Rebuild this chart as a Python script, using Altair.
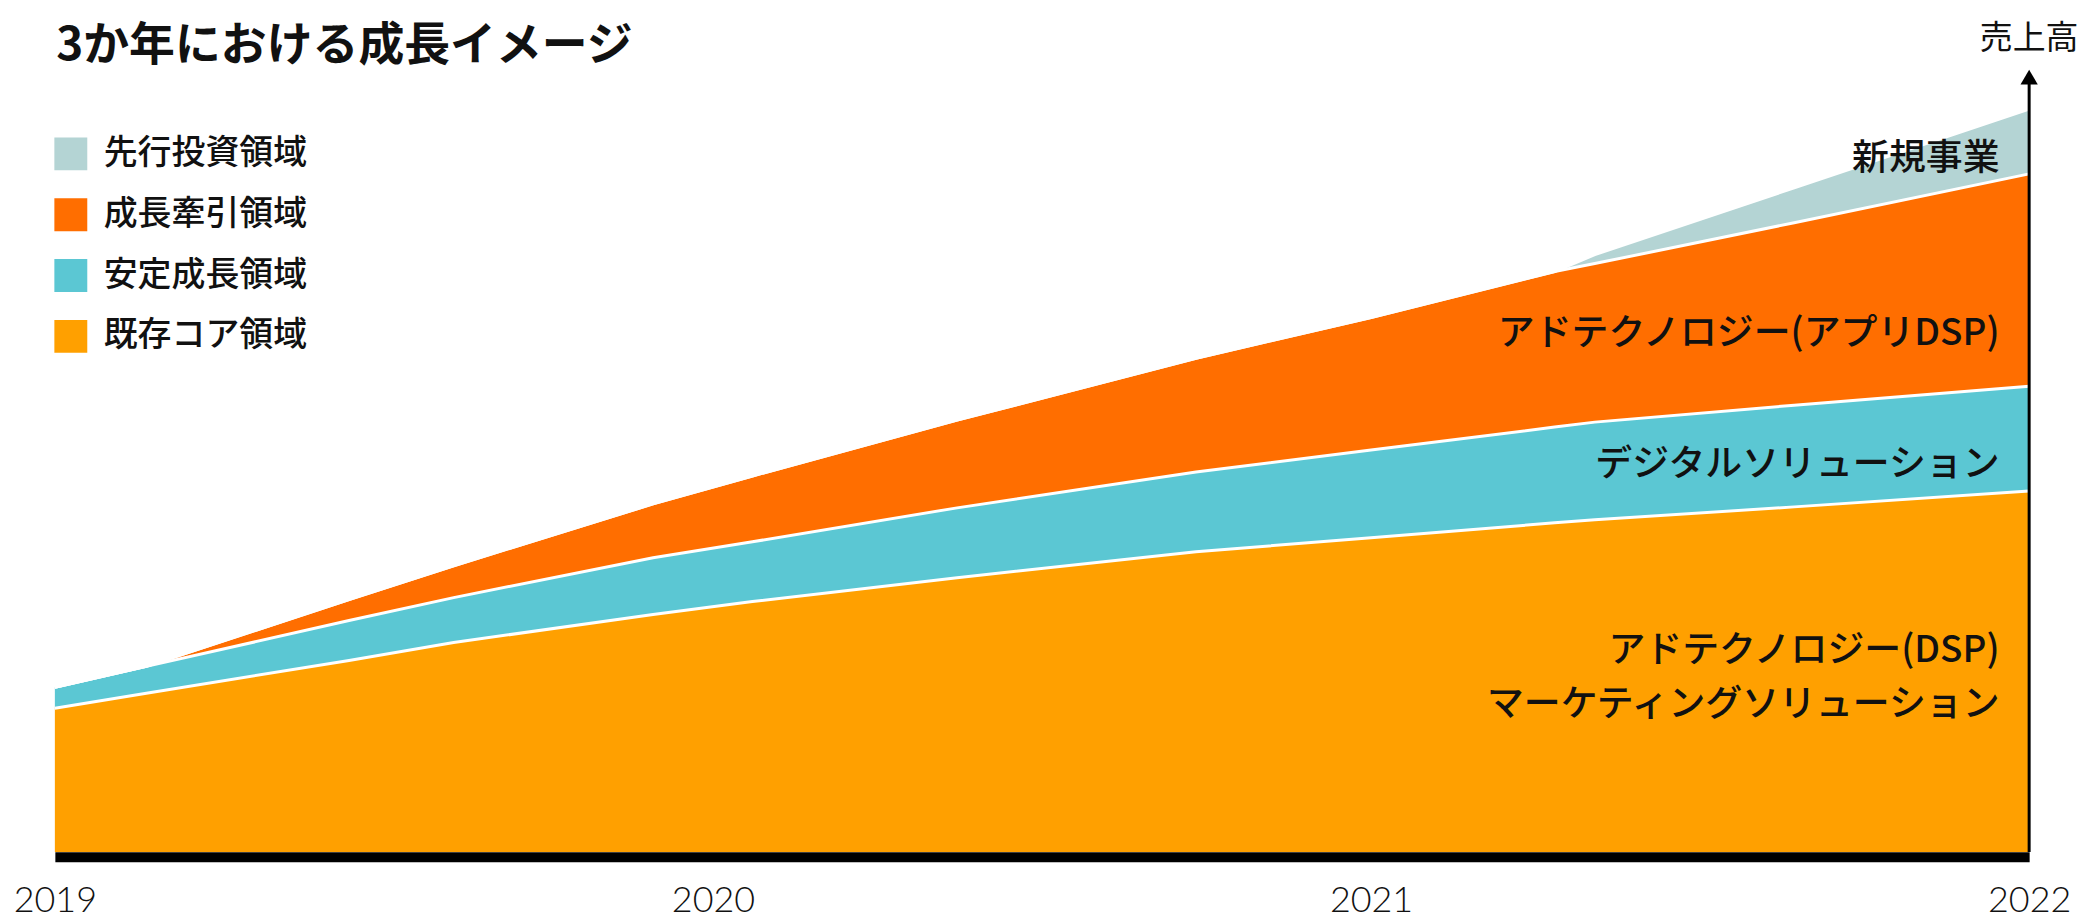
import altair as alt
import pandas as pd

# ---- data (stack thicknesses, arbitrary units) ----
years = [2019.0, 2019.139, 2019.447, 2019.606, 2019.909, 2020.06, 2020.371, 2020.734,
         2021.0, 2021.279, 2021.34, 2021.643, 2022.0]
core = [144, 159, 192, 210, 238, 251, 275, 301, 315, 330, 333, 346, 362]     # 既存コア領域
stable = [21, 27, 40, 45, 57, 60, 70, 80, 88, 96, 98, 102, 105]             # 安定成長領域
growth = [0, 0, 21, 32, 54, 66, 88, 114, 133, 156, 159, 183, 213]           # 成長牽引領域
invest = [0, 0, 0, 0, 0, 0, 0, 0, 0, 0, 9, 35, 65]                          # 先行投資領域

stack_names = ["既存コア領域", "安定成長領域", "成長牽引領域", "先行投資領域"]
legend_names = ["先行投資領域", "成長牽引領域", "安定成長領域", "既存コア領域"]
legend_colors = ["#B4D4D4", "#FF6E00", "#5BC7D3", "#FFA000"]

tick_years = [2019, 2020, 2021, 2022]

label_texts = ["新規事業", "アドテクノロジー(アプリDSP)", "デジタルソリューション",
               "アドテクノロジー(DSP)", "マーケティングソリューション"]
label_x = [2021.955] * 5
label_y = [695, 519, 388, 201, 147]

title_text = "3か年における成長イメージ"
yaxis_text = "売上高"

FONT = "Noto Sans CJK JP"

rows = []
for rank, (name, vals) in enumerate(zip(stack_names, [core, stable, growth, invest])):
    for yr, v in zip(years, vals):
        rows.append({"year": yr, "value": v, "series": name, "rank": rank})
df = pd.DataFrame(rows)

xscale = alt.Scale(domain=[2019, 2022], nice=False, zero=False)
yscale = alt.Scale(domain=[0, 785], nice=False, zero=True)

base = alt.Chart(df).transform_stack(
    stack="value", groupby=["year"], as_=["y0", "y1"],
    sort=[alt.SortField(field="rank", order="ascending")]
)

area = base.mark_area(interpolate="linear", opacity=1).encode(
    x=alt.X("year:Q", scale=xscale, title=None,
            axis=alt.Axis(values=tick_years, format="d", labelFontSize=36, labelFont="Lato",
                          labelFontWeight=300, labelColor="#111111", ticks=False, tickSize=0,
                          domain=True, domainColor="black", domainWidth=10, offset=5,
                          labelPadding=27, labelFlush=False, grid=False)),
    y=alt.Y("y1:Q", scale=yscale, axis=None),
    y2="y0:Q",
    color=alt.Color("series:N", scale=alt.Scale(domain=legend_names, range=legend_colors),
                    legend=alt.Legend(title=None, orient="none", legendX=-1, legendY=68,
                                      symbolType="square", symbolSize=1089, symbolStrokeWidth=0,
                                      symbolOpacity=1, labelFontSize=34, labelFont=FONT,
                                      labelFontWeight=500, labelLimit=0,
                                      labelColor="#111111", rowPadding=27, labelOffset=16,
                                      padding=0)),
)

lines = base.mark_line(interpolate="linear", color="white", strokeWidth=3).encode(
    x=alt.X("year:Q", scale=xscale),
    y=alt.Y("y1:Q", scale=yscale),
    detail="series:N",
)

lab_df = pd.DataFrame({"t": label_texts, "x": label_x, "y": label_y})
labels = alt.Chart(lab_df).mark_text(align="right", baseline="middle", fontSize=37, font=FONT,
                                     fontWeight=500, color="#111111").encode(
    x=alt.X("x:Q", scale=xscale), y=alt.Y("y:Q", scale=yscale), text="t:N")

title_df = pd.DataFrame({"t": [title_text], "x": [2019.002], "y": [808]})
title = alt.Chart(title_df).mark_text(align="left", baseline="middle", fontSize=46, font=FONT,
                                      fontWeight="bold", color="#111111").encode(
    x=alt.X("x:Q", scale=xscale), y=alt.Y("y:Q", scale=yscale), text="t:N")

ylab_df = pd.DataFrame({"t": [yaxis_text], "x": [2022], "y": [815]})
ylab = alt.Chart(ylab_df).mark_text(align="center", baseline="middle", fontSize=33, font=FONT,
                                    color="#111111").encode(
    x=alt.X("x:Q", scale=xscale), y=alt.Y("y:Q", scale=yscale), text="t:N")

arrow_df = pd.DataFrame({"x": [2022], "y": [0], "y2": [772], "head": [777]})
rule = alt.Chart(arrow_df).mark_rule(color="black", strokeWidth=3).encode(
    x=alt.X("x:Q", scale=xscale), y=alt.Y("y:Q", scale=yscale), y2="y2:Q")
head = alt.Chart(arrow_df).mark_point(shape="triangle-up", size=300, filled=True,
                                      color="black", opacity=1).encode(
    x=alt.X("x:Q", scale=xscale), y=alt.Y("head:Q", scale=yscale))

chart = alt.layer(area, lines, labels, title, ylab, rule, head).properties(
    width=1980, height=785,
    autosize=alt.AutoSizeParams(type="none"),
    padding={"left": 47, "top": 60, "right": 50, "bottom": 67},
).configure_view(stroke=None)

chart.save("out.html", embed_options={"renderer": "svg", "actions": False})
